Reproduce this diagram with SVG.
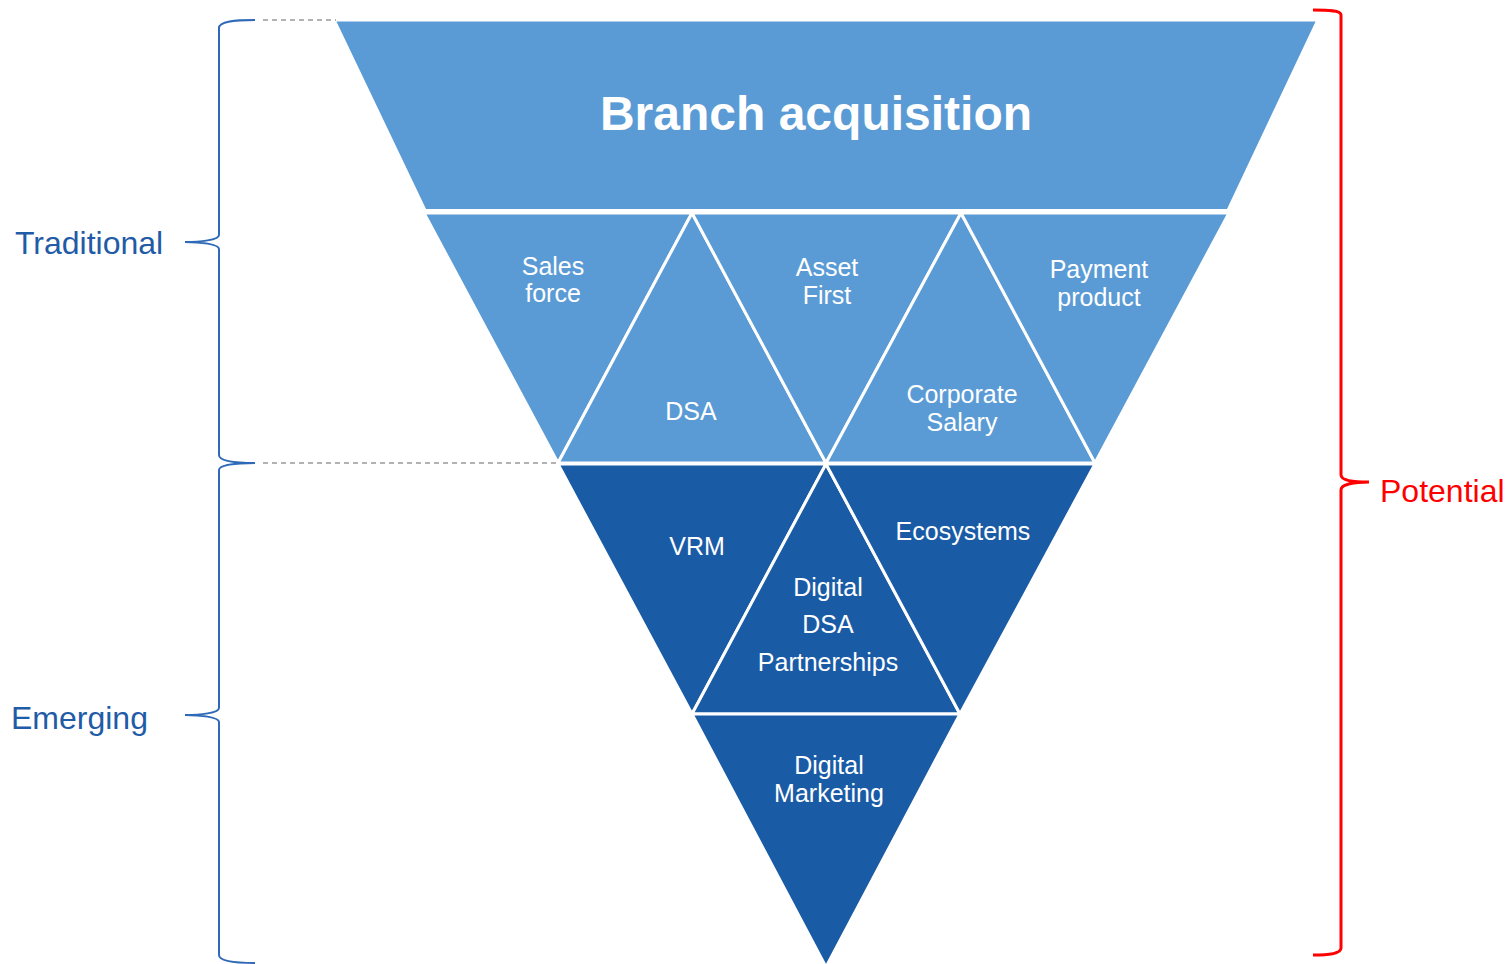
<svg xmlns="http://www.w3.org/2000/svg" width="1511" height="964" viewBox="0 0 1511 964">
  <style>
    .light { fill: #5B9BD5; stroke: #FFFFFF; stroke-width: 3; stroke-linejoin: miter; }
    .dark { fill: #1A5BA6; stroke: #FFFFFF; stroke-width: 3; stroke-linejoin: miter; }
    .lbl { font-family: "Liberation Sans", Arial, sans-serif; font-size: 25px; fill: #FFFFFF; text-anchor: middle; }
    .title { font-family: "Liberation Sans", Arial, sans-serif; font-size: 48px; font-weight: bold; fill: #FFFFFF; text-anchor: middle; }
    .side { font-family: "Liberation Sans", Arial, sans-serif; font-size: 32px; }
    .brace-blue { fill: none; stroke: #2E6AB8; stroke-width: 2; }
    .brace-red { fill: none; stroke: #FF0000; stroke-width: 3; }
    .dash { stroke: #999999; stroke-width: 1.5; stroke-dasharray: 5 4; fill: none; }
  </style>

  <!-- top band -->
  <g id="branch-acquisition">
    <polygon class="light" points="334,20 1318,20 1228,210.5 425,210.5"/>
    <text class="title" x="816" y="130">Branch acquisition</text>
  </g>

  <!-- second row -->
  <g id="sales-force">
    <polygon class="light" points="424,213 692,213 558,463"/>
    <text class="lbl" x="553" y="275">Sales</text>
    <text class="lbl" x="553" y="302">force</text>
  </g>
  <g id="dsa">
    <polygon class="light" points="692,213 826,463 558,463"/>
    <text class="lbl" x="691" y="420">DSA</text>
  </g>
  <g id="asset-first">
    <polygon class="light" points="692,213 961,213 826,463"/>
    <text class="lbl" x="827" y="276">Asset</text>
    <text class="lbl" x="827" y="304">First</text>
  </g>
  <g id="corporate-salary">
    <polygon class="light" points="961,213 1095,463 826,463"/>
    <text class="lbl" x="962" y="403">Corporate</text>
    <text class="lbl" x="962" y="431">Salary</text>
  </g>
  <g id="payment-product">
    <polygon class="light" points="961,213 1229,213 1095,463"/>
    <text class="lbl" x="1099" y="278">Payment</text>
    <text class="lbl" x="1099" y="306">product</text>
  </g>

  <!-- third row -->
  <g id="vrm">
    <polygon class="dark" points="558,464 826,464 692,714"/>
    <text class="lbl" x="697" y="555">VRM</text>
  </g>
  <g id="digital-dsa-partnerships">
    <polygon class="dark" points="826,464 960,714 692,714"/>
    <text class="lbl" x="828" y="596">Digital</text>
    <text class="lbl" x="828" y="633">DSA</text>
    <text class="lbl" x="828" y="671">Partnerships</text>
  </g>
  <g id="ecosystems">
    <polygon class="dark" points="826,464 1095,464 960,714"/>
    <text class="lbl" x="963" y="540">Ecosystems</text>
  </g>

  <!-- bottom tip -->
  <g id="digital-marketing">
    <polygon class="dark" points="692,714 960,714 826,967"/>
    <text class="lbl" x="829" y="774">Digital</text>
    <text class="lbl" x="829" y="802">Marketing</text>
  </g>

  <!-- braces and guide lines -->
  <g id="connectors">
    <line class="dash" x1="263" y1="20" x2="336" y2="20"/>
    <line class="dash" x1="263" y1="463" x2="556" y2="463"/>
    <path class="brace-blue" d="M255,20 C235,20 219,21 219,28 L219,235 C219,240 200,242 185,242 C200,242 219,244 219,249 L219,455 C219,461 235,463 255,463"/>
    <path class="brace-blue" d="M255,463 C235,463 219,465 219,470 L219,708 C219,713 200,715 185,715 C200,715 219,717 219,722 L219,955 C219,961 235,963 255,963"/>
    <path class="brace-red" d="M1313,10 C1328,10 1341,10 1341,15 L1341,475 C1341,481 1355,482 1369,482 C1355,482 1341,484 1341,490 L1341,948 C1341,954 1328,955 1313,955"/>
  </g>

  <!-- side labels -->
  <g id="side-labels">
    <text class="side" x="15" y="254" fill="#1F5BA6">Traditional</text>
    <text class="side" x="11" y="729" fill="#1F5BA6">Emerging</text>
    <text class="side" x="1380" y="502" fill="#FF0000">Potential</text>
  </g>
</svg>
